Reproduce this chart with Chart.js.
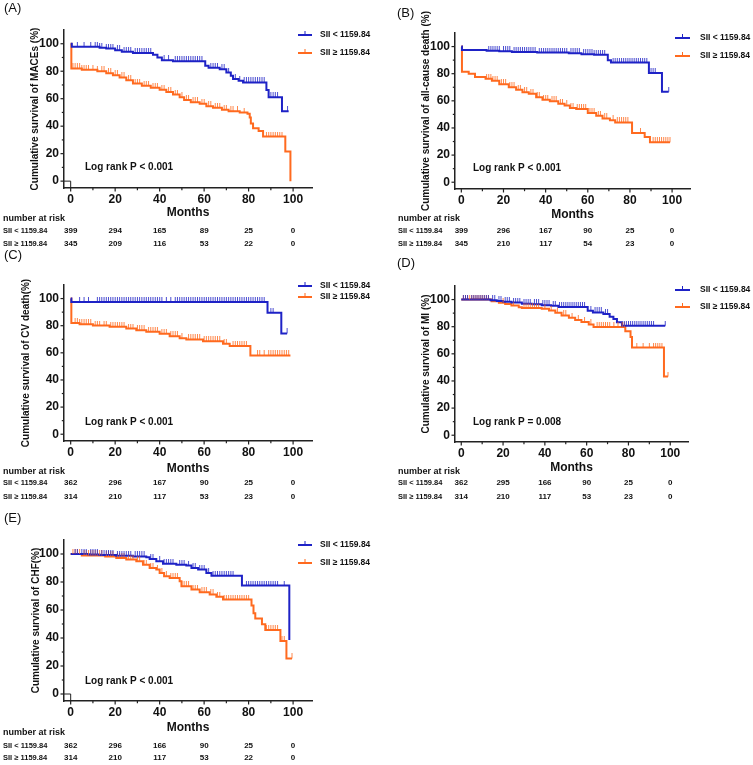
<!DOCTYPE html>
<html>
<head>
<meta charset="utf-8">
<script src="https://cdn.jsdelivr.net/npm/chart.js@4.4.0/dist/chart.umd.min.js"></script>
<style>
html, body { margin: 0; padding: 0; background: #fff; }
#page { position: relative; width: 753px; height: 765px; overflow: hidden; }
canvas { position: absolute; }
</style>
</head>
<body>
<div id="page"></div>
<script>
// ---- data ----
const monthsTicks = [0, 20, 40, 60, 80, 100];
const monthsMinor = [10, 30, 50, 70, 90];
const survTicks = [0, 20, 40, 60, 80, 100];
const survMinor = [10, 30, 50, 70, 90];
const riskTimes = [0, 20, 40, 60, 80, 100];
const groupNames = ['SII < 1159.84', 'SII \u2265 1159.84'];

// (A) MACEs
const macesLowT = [0, 0.5, 13, 16, 20, 23, 28, 37, 39, 41, 46, 60.5, 62, 67, 70, 72, 73, 75.5, 77.5, 88, 89, 95, 98];
const macesLowS = [100, 97.8, 97, 96.5, 95.3, 94.2, 93.3, 92, 90, 88, 87.3, 84, 82.5, 81.5, 79, 76.7, 74.3, 73, 71.8, 66.4, 61, 50.8, 50.8];
const macesLowCens = [3, 6, 9, 11, 12, 13, 14, 16, 17, 18, 19, 21, 22, 24, 25, 26, 27, 29, 30, 31, 32, 33, 34, 35, 36, 42, 44, 47, 48, 49, 50, 51, 52, 53, 54, 55, 56, 57, 58, 59, 63, 64, 65, 66, 68, 69, 71, 74, 76, 78, 79, 80, 81, 82, 83, 84, 85, 86, 87, 90, 91, 92, 93, 97.5];
const macesHighT = [0, 0.3, 5, 12, 16, 19, 22, 25, 28, 32, 36, 40, 43, 46, 49, 51, 54, 58, 61, 64, 68, 71, 76, 79.5, 80.5, 81, 82, 84.5, 86.5, 96.5, 98.8];
const macesHighS = [100, 82, 81, 80, 78.6, 77, 75.5, 73.5, 71, 69.5, 68, 66.5, 64.8, 63, 61, 59, 57.5, 56.4, 54.5, 53.5, 52, 50.8, 49.9, 49, 46.3, 42, 38.4, 36.5, 32.4, 21.6, 0];
const macesHighCens = [1, 2, 3, 4, 5, 6, 7, 8, 10, 12, 14, 15, 17, 18, 20, 21, 23, 24, 26, 27, 29, 30, 31, 33, 34, 35, 37, 38, 39, 41, 42, 44, 45, 47, 48, 50, 52, 53, 55, 56, 57, 59, 60, 62, 63, 65, 66, 67, 69, 70, 72, 73, 75, 78, 88, 89, 90, 91, 92, 93, 94, 95];
const macesRiskLow = [399, 294, 165, 89, 25, 0];
const macesRiskHigh = [345, 209, 116, 53, 22, 0];

// (B) all-cause death
const deathLowT = [0, 0.3, 12, 18, 24, 36, 51, 57, 63, 69.5, 71, 89, 95.2, 98.4];
const deathLowS = [100, 97.5, 97, 96.5, 96, 95.6, 95, 94.4, 93.9, 90, 88.2, 80.6, 66.7, 66.7];
const deathLowCens = [13, 14, 15, 16, 17, 18, 20, 21, 22, 23, 25, 26, 27, 28, 29, 30, 31, 32, 33, 34, 35, 37, 38, 39, 40, 41, 42, 43, 44, 45, 46, 47, 48, 49, 50, 52, 53, 54, 55, 56, 58, 59, 60, 61, 62, 63, 64, 65, 66, 67, 68, 72, 73, 74, 75, 76, 77, 78, 79, 80, 81, 82, 83, 84, 85, 86, 87, 88, 90, 91, 92, 98.4];
const deathHighT = [0, 0.3, 3.5, 6.5, 11.5, 14.5, 18, 22.5, 26, 29, 32, 35.5, 38.5, 42, 46, 49, 51.5, 54.5, 60, 64, 67, 70.5, 73, 81, 87, 89.5, 99];
const deathHighS = [100, 81.5, 80, 77.5, 76.2, 74.8, 72.3, 70, 68.1, 66.4, 65.2, 62.7, 60.8, 59.6, 57.8, 56.6, 54.7, 53.9, 51, 49, 47, 45.6, 44.1, 36.3, 33.3, 29.4, 29.4];
const deathHighCens = [12, 13, 14, 15, 16, 17, 19, 20, 21, 23, 24, 25, 27, 28, 30, 31, 33, 34, 36, 37, 39, 40, 41, 43, 44, 45, 47, 48, 50, 52, 53, 55, 56, 57, 58, 59, 61, 62, 63, 65, 66, 68, 69, 72, 74, 75, 76, 77, 78, 79, 85, 91, 92, 93, 94, 95, 96, 97, 98, 99];
const deathRiskLow = [399, 296, 167, 90, 25, 0];
const deathRiskHigh = [345, 210, 117, 54, 23, 0];

// (C) CV death
const cvLowT = [0, 0.3, 88.5, 94.7, 97.3];
const cvLowS = [100, 97.5, 89.5, 74.3, 74.3];
const cvLowCens = [4, 6, 8, 12, 13, 14, 15, 16, 17, 18, 19, 20, 21, 22, 23, 24, 25, 26, 27, 28, 29, 30, 31, 32, 33, 34, 35, 36, 37, 38, 39, 40, 41, 43, 45, 47, 48, 49, 50, 51, 52, 53, 54, 55, 56, 57, 58, 59, 60, 61, 62, 63, 64, 65, 66, 67, 68, 69, 70, 71, 72, 73, 74, 75, 76, 77, 78, 79, 80, 81, 82, 83, 84, 85, 86, 87, 90, 91, 97.3];
const cvHighT = [0, 0.3, 4, 10, 17.5, 25, 29.5, 34, 40, 44.5, 49, 52, 59.5, 68.5, 71.5, 80.8, 98.8];
const cvHighS = [100, 82, 81, 80.1, 79.2, 77.9, 76.7, 75.5, 74, 72.3, 70.8, 69.9, 68.6, 66.7, 65, 58.1, 58.1];
const cvHighCens = [2, 3, 4, 5, 6, 7, 8, 9, 11, 12, 13, 15, 16, 18, 19, 20, 21, 22, 23, 24, 26, 27, 28, 30, 31, 32, 33, 35, 36, 37, 38, 39, 41, 42, 43, 45, 46, 47, 48, 50, 53, 54, 55, 56, 57, 58, 60, 61, 62, 63, 64, 65, 66, 67, 69, 70, 73, 74, 75, 76, 77, 78, 79, 84, 85, 87, 89, 90, 91, 92, 93, 94, 95, 96, 97, 98];
const cvRiskLow = [362, 296, 167, 90, 25, 0];
const cvRiskHigh = [314, 210, 117, 53, 23, 0];

// (D) MI
const miLowT = [0, 14, 17, 20, 24, 29, 34, 38.5, 43, 46.5, 60.5, 63, 68, 71, 72.8, 74.5, 76.9, 97.6];
const miLowS = [100, 99.5, 99, 98.3, 97.8, 97, 96.6, 95.9, 95.4, 94.6, 91.7, 90.5, 89.3, 87.3, 85.6, 83.2, 80.7, 80.7];
const miLowCens = [1, 2, 3, 5, 6, 7, 8, 9, 10, 11, 12, 13, 15, 16, 18, 19, 21, 22, 23, 25, 26, 27, 28, 30, 31, 32, 33, 35, 36, 37, 39, 40, 41, 42, 44, 45, 47, 48, 49, 50, 51, 52, 53, 54, 55, 56, 57, 58, 59, 62, 64, 65, 66, 67, 69, 70, 78, 79, 80, 81, 82, 83, 84, 85, 86, 87, 88, 89, 90, 91, 92, 97.6];
const miHighT = [0, 14.5, 18, 21, 24, 27.5, 29, 38.5, 42, 45, 48, 51.5, 54.5, 57.5, 61, 63.3, 78.5, 81, 81.7, 97, 98.9];
const miHighS = [100, 98.8, 97.6, 96.8, 95.6, 94.4, 93.7, 93.2, 91.9, 90.2, 88.3, 86.6, 85, 83.4, 81.7, 79.7, 76.6, 72.4, 64.6, 43.2, 43.2];
const miHighCens = [1, 2, 3, 4, 5, 6, 7, 8, 9, 10, 11, 12, 13, 20, 25, 30, 31, 32, 33, 34, 35, 36, 37, 40, 43, 46, 49, 50, 53, 56, 59, 62, 65, 66, 67, 68, 69, 70, 71, 73, 75, 77, 78, 84, 87, 90, 92, 93, 94, 95, 96, 98.9];
const miRiskLow = [362, 295, 166, 90, 25, 0];
const miRiskHigh = [314, 210, 117, 53, 23, 0];

// (E) CHF
const chfLowT = [0, 8, 13, 20.5, 28, 34, 35.5, 38.5, 41.5, 47.5, 52, 54.3, 57.3, 61, 63.3, 77, 98.3];
const chfLowS = [100, 99.7, 99.3, 98.8, 98.3, 97.6, 96.4, 94.8, 93.1, 92.4, 91.7, 90, 88.9, 86.5, 84.5, 77.5, 38.5];
const chfLowCens = [2, 3, 5, 6, 7, 9, 10, 11, 12, 14, 15, 16, 17, 18, 19, 21, 22, 23, 24, 25, 26, 27, 29, 30, 31, 32, 33, 36, 37, 40, 42, 43, 44, 45, 46, 49, 50, 51, 53, 55, 56, 58, 59, 60, 62, 64, 65, 66, 67, 68, 69, 70, 71, 72, 73, 79, 80, 81, 82, 83, 84, 85, 86, 87, 88, 89, 90, 91, 92, 93, 96];
const chfHighT = [0, 5, 15.5, 20.5, 25, 29.5, 32.5, 35.5, 38.5, 40, 42, 44.5, 49, 49.8, 54.3, 58, 62.5, 65.5, 68.5, 81.3, 82.2, 83, 86, 87.5, 94.3, 97, 99.5];
const chfHighS = [100, 99, 98.3, 97.2, 96, 94.8, 92.4, 90, 88.9, 86.5, 84.1, 82.9, 80.6, 77, 74.6, 72.7, 71.1, 69.4, 67.5, 63.3, 57.6, 54, 49.8, 45.7, 37.9, 25.4, 25.4];
const chfHighCens = [1, 2, 3, 4, 6, 7, 8, 9, 10, 11, 12, 13, 14, 16, 17, 18, 19, 21, 22, 23, 24, 26, 27, 28, 30, 31, 33, 34, 36, 37, 39, 41, 43, 45, 46, 47, 48, 50, 51, 52, 53, 55, 56, 57, 59, 60, 61, 63, 64, 66, 67, 69, 70, 71, 72, 73, 74, 75, 76, 77, 78, 79, 80, 88, 89, 90, 91, 92, 93, 95, 96, 99.5];
const chfRiskLow = [362, 296, 166, 90, 25, 0];
const chfRiskHigh = [314, 210, 117, 53, 22, 0];

// ---- styles ----
const blue = '#1e22c6';
const orange = '#ff6a1f';
const axisColor = '#222';
const textColor = '#111';
const family = '"Liberation Sans", Arial, Helvetica, sans-serif';

// ---- panel layout (page pixels) ----
const panels = [
  { id: 'A', box: [0, 0, 376, 252], axis: { left: 64, right: 312, top: 30, bottom: 188 },
    yTitle: 'Cumulative survival of MACEs (%)', yTitleX: 35, letter: [4, 8],
    legend: { x1: 298, x2: 312, tx: 320, y: [35, 53] }, logrank: ['Log rank P < 0.001', 85, 167],
    monthsY: 213, riskY: [219, 231, 244], riskX: 3, corner: true,
    low: [macesLowT, macesLowS, macesLowCens], high: [macesHighT, macesHighS, macesHighCens],
    risk: [macesRiskLow, macesRiskHigh] },
  { id: 'B', box: [376, 0, 377, 252], axis: { left: 455, right: 690, top: 33, bottom: 189 },
    yTitle: 'Cumulative survival of all-cause death (%)', yTitleX: 426, letter: [397, 13],
    legend: { x1: 675, x2: 690, tx: 700, y: [38, 56] }, logrank: ['Log rank P < 0.001', 473, 168],
    monthsY: 215, riskY: [219, 231, 244], riskX: 398, corner: false,
    low: [deathLowT, deathLowS, deathLowCens], high: [deathHighT, deathHighS, deathHighCens],
    risk: [deathRiskLow, deathRiskHigh] },
  { id: 'C', box: [0, 244, 376, 261], axis: { left: 64, right: 312, top: 285, bottom: 441 },
    yTitle: 'Cumulative survival of CV death(%)', yTitleX: 26, letter: [4, 255],
    legend: { x1: 298, x2: 312, tx: 320, y: [286, 297] }, logrank: ['Log rank P < 0.001', 85, 422],
    monthsY: 469, riskY: [472, 483, 497], riskX: 3, corner: false,
    low: [cvLowT, cvLowS, cvLowCens], high: [cvHighT, cvHighS, cvHighCens],
    risk: [cvRiskLow, cvRiskHigh] },
  { id: 'D', box: [376, 250, 377, 255], axis: { left: 455, right: 688, top: 286, bottom: 442 },
    yTitle: 'Cumulative survival of MI (%)', yTitleX: 426, letter: [397, 263],
    legend: { x1: 675, x2: 690, tx: 700, y: [290, 307] }, logrank: ['Log rank P = 0.008', 473, 422],
    monthsY: 468, riskY: [472, 483, 497], riskX: 398, corner: false,
    low: [miLowT, miLowS, miLowCens], high: [miHighT, miHighS, miHighCens],
    risk: [miRiskLow, miRiskHigh] },
  { id: 'E', box: [0, 505, 376, 260], axis: { left: 64, right: 312, top: 540, bottom: 701 },
    yTitle: 'Cumulative survival of CHF(%)', yTitleX: 36, letter: [4, 518],
    legend: { x1: 298, x2: 312, tx: 320, y: [545, 563] }, logrank: ['Log rank P < 0.001', 85, 681],
    monthsY: 728, riskY: [733, 746, 758], riskX: 3, corner: true,
    low: [chfLowT, chfLowS, chfLowCens], high: [chfHighT, chfHighS, chfHighCens],
    risk: [chfRiskLow, chfRiskHigh] }
];

function stepPoints(times, surv) {
  return times.map((t, i) => ({ x: t, y: surv[i] }));
}

// censored subjects sit on the curve at the level in force at that time
function censorPoints(times, surv, cens) {
  return cens.map(c => {
    let v = surv[0];
    for (let i = 0; i < times.length; i++) if (times[i] <= c) v = surv[i];
    return { x: c, y: v };
  });
}

function tickImage(color) {
  const c = document.createElement('canvas');
  c.width = 3; c.height = 10;
  const g = c.getContext('2d');
  g.globalAlpha = 0.8;
  g.fillStyle = color;
  g.fillRect(1, 0, 1, 5);
  return c;
}

function seg(ctx, x1, y1, x2, y2) {
  ctx.beginPath(); ctx.moveTo(x1, y1); ctx.lineTo(x2, y2); ctx.stroke();
}

function decor(p) {
  return {
    id: 'decor' + p.id,
    afterDraw(chart) {
      const ctx = chart.ctx, xs = chart.scales.x, ys = chart.scales.y;
      const ox = p.box[0], oy = p.box[1];
      const L = ys.right, B = xs.top;
      ctx.save();
      ctx.strokeStyle = axisColor;
      ctx.lineWidth = 1.2;
      monthsTicks.forEach(v => { const px = xs.getPixelForValue(v); seg(ctx, px, B, px, B + 3.5); });
      monthsMinor.forEach(v => { const px = xs.getPixelForValue(v); seg(ctx, px, B, px, B + 2.2); });
      survTicks.forEach(v => { const py = ys.getPixelForValue(v); seg(ctx, L, py, L - 3.5, py); });
      survMinor.forEach(v => { const py = ys.getPixelForValue(v); seg(ctx, L, py, L - 2.2, py); });
      if (p.corner) {
        const x0 = xs.getPixelForValue(0), y0 = ys.getPixelForValue(0);
        ctx.lineWidth = 1;
        ctx.beginPath(); ctx.moveTo(L, y0); ctx.lineTo(x0, y0); ctx.lineTo(x0, B); ctx.stroke();
      }

      ctx.fillStyle = textColor;
      ctx.textBaseline = 'middle';
      ctx.textAlign = 'left';
      ctx.font = '13px ' + family;
      ctx.fillText('(' + p.id + ')', p.letter[0] - ox, p.letter[1] - oy);

      // legend
      [blue, orange].forEach((col, i) => {
        const y = p.legend.y[i] - oy;
        const x1 = p.legend.x1 - ox, x2 = p.legend.x2 - ox;
        ctx.strokeStyle = col;
        ctx.lineWidth = 2;
        seg(ctx, x1, y, x2, y);
        ctx.lineWidth = 1;
        seg(ctx, (x1 + x2) / 2, y, (x1 + x2) / 2, y - 4);
        ctx.fillStyle = textColor;
        ctx.font = 'bold 8.5px ' + family;
        ctx.fillText(groupNames[i], p.legend.tx - ox, y);
      });

      ctx.font = 'bold 10px ' + family;
      ctx.fillText(p.logrank[0], p.logrank[1] - ox, p.logrank[2] - oy);

      // number at risk table
      ctx.font = 'bold 9px ' + family;
      ctx.fillText('number at risk', p.riskX - ox, p.riskY[0] - oy);
      [0, 1].forEach(i => {
        const y = p.riskY[i + 1] - oy;
        ctx.textAlign = 'left';
        ctx.font = 'bold 7.5px ' + family;
        ctx.fillText(groupNames[i], p.riskX - ox, y);
        ctx.textAlign = 'center';
        ctx.font = 'bold 8px ' + family;
        p.risk[i].forEach((n, j) => ctx.fillText(String(n), xs.getPixelForValue(riskTimes[j]), y));
      });
      ctx.restore();
    }
  };
}

const page = document.getElementById('page');

function buildPanel(p) {
  const [bx, by, bw, bh] = p.box;
  const ax = p.axis;
  const cv = document.createElement('canvas');
  cv.width = bw; cv.height = bh;
  cv.style.left = bx + 'px'; cv.style.top = by + 'px';
  cv.style.width = bw + 'px'; cv.style.height = bh + 'px';
  page.appendChild(cv);

  const xH = p.monthsY - ax.bottom + 7.2;
  const tickFont = { family: family, size: 12, weight: 'bold' };

  const series = [[p.low, blue], [p.high, orange]];
  const datasets = [];
  series.forEach(([s, col]) => {
    datasets.push({
      data: censorPoints(s[0], s[1], s[2]),
      showLine: false,
      pointStyle: tickImage(col),
      pointRadius: 3,
      pointHoverRadius: 3
    });
  });
  series.forEach(([s, col]) => {
    datasets.push({
      data: stepPoints(s[0], s[1]),
      stepped: true,
      borderColor: col,
      borderWidth: 2,
      pointRadius: 0,
      fill: false
    });
  });

  new Chart(cv, {
    type: 'line',
    data: { datasets: datasets },
    options: {
      responsive: false,
      animation: false,
      events: [],
      layout: {
        padding: { left: 0, top: ax.top - by, right: bx + bw - ax.right, bottom: by + bh - ax.bottom - xH }
      },
      scales: {
        x: {
          type: 'linear', min: -3, max: 108.5,
          grid: { display: false, drawTicks: false },
          border: { display: true, color: axisColor, width: 1.5 },
          ticks: { autoSkip: false, maxRotation: 0, padding: 4, color: textColor, font: tickFont },
          afterBuildTicks: s => { s.ticks = monthsTicks.map(v => ({ value: v })); },
          afterFit: s => { s.height = xH; },
          title: { display: true, text: 'Months', color: textColor, padding: 0,
                   font: { family: family, size: 12, weight: 'bold' } }
        },
        y: {
          type: 'linear', min: -5, max: 110,
          grid: { display: false, drawTicks: false },
          border: { display: true, color: axisColor, width: 1.5 },
          ticks: { autoSkip: false, padding: 5, color: textColor, font: tickFont },
          afterBuildTicks: s => { s.ticks = survTicks.map(v => ({ value: v })); },
          afterFit: s => { s.width = ax.left - bx; },
          title: { display: true, text: p.yTitle, color: textColor,
                   padding: { top: p.yTitleX - bx - 6, bottom: 0 },
                   font: { family: family, size: 10, weight: 'bold' } }
        }
      },
      plugins: { legend: { display: false }, tooltip: { enabled: false } }
    },
    plugins: [decor(p)]
  });
}

panels.forEach(buildPanel);
</script>
</body>
</html>
